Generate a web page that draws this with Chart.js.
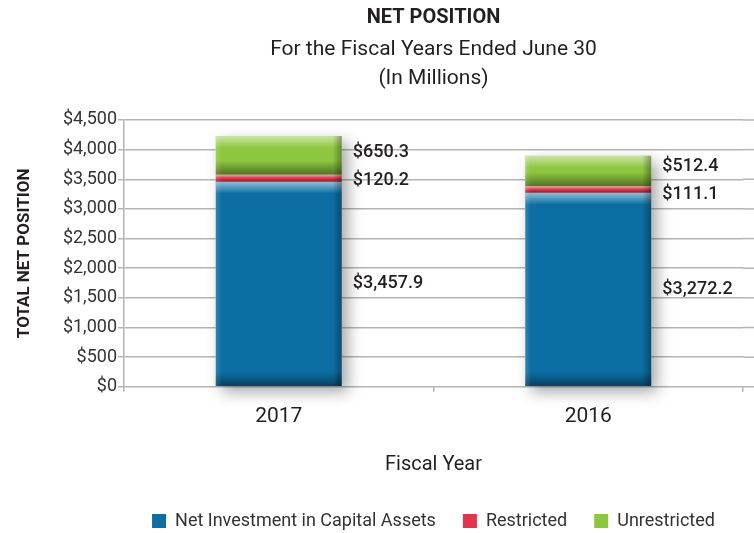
<!DOCTYPE html>
<html>
<head>
<meta charset="utf-8">
<title>Net Position</title>
<script src="https://cdn.jsdelivr.net/npm/chart.js@4"></script>
<style>
  html, body { margin: 0; padding: 0; background: #fff; }
  #wrap { width: 754px; height: 533px; }
</style>
</head>
<body>
<div id="wrap"><canvas id="netChart"></canvas></div>
<script>
// Chart data (in millions)
const years = ['2017', '2016'];
const netInvestment = [3457.9, 3272.2];
const restricted = [120.2, 111.1];
const unrestricted = [650.3, 512.4];
const seriesNames = ['Net Investment in Capital Assets', 'Restricted', 'Unrestricted'];

const textColor = '#231f20';
const gridColor = '#b4b4b4';
const fontFamily = "Roboto, 'Liberation Sans', sans-serif";

Chart.defaults.font.family = fontFamily;
Chart.defaults.color = textColor;

const money = v => '$' + v.toLocaleString('en-US', { minimumFractionDigits: 1, maximumFractionDigits: 1 });

// 3D-ish shading, drop shadows and value labels on the bars
const bevelPlugin = {
    id: 'bevel',
    beforeDatasetsDraw(chart) {
        const { ctx, chartArea, scales: { y } } = chart;
        ctx.save();
        // grid lines run out to the right edge
        ctx.strokeStyle = gridColor;
        ctx.lineWidth = 1.5;
        y.ticks.forEach(t => {
            const py = y.getPixelForValue(t.value);
            ctx.beginPath();
            ctx.moveTo(chartArea.right, py);
            ctx.lineTo(chart.width, py);
            ctx.stroke();
        });
        // soft shadow behind each stack
        const metas = chart.getSortedVisibleDatasetMetas();
        years.forEach((_, i) => {
            let top = Infinity, bottom = -Infinity, left = 0, width = 0;
            metas.forEach(m => {
                const p = m.data[i].getProps(['x', 'y', 'base', 'width'], true);
                top = Math.min(top, p.y, p.base);
                bottom = Math.max(bottom, p.y, p.base);
                left = p.x - p.width / 2;
                width = p.width;
            });
            ctx.shadowColor = 'rgba(0,0,0,0.35)';
            ctx.shadowBlur = 14;
            ctx.shadowOffsetX = 6;
            ctx.shadowOffsetY = 6;
            ctx.fillStyle = '#fff';
            ctx.fillRect(left, top, width, bottom - top);
        });
        ctx.restore();
    },
    afterDatasetsDraw(chart) {
        const { ctx } = chart;
        const metas = chart.getSortedVisibleDatasetMetas();
        ctx.save();
        metas.forEach(m => {
            m.data.forEach(el => {
                const p = el.getProps(['x', 'y', 'base', 'width'], true);
                const l = p.x - p.width / 2, w = p.width;
                const t = Math.min(p.y, p.base), h = Math.abs(p.base - p.y);
                let g;
                const th = Math.min(12, h / 2);
                g = ctx.createLinearGradient(0, t, 0, t + th);
                g.addColorStop(0, 'rgba(255,255,255,0.55)');
                g.addColorStop(1, 'rgba(255,255,255,0)');
                ctx.fillStyle = g;
                ctx.fillRect(l, t, w, th);
                const bh = Math.min(14, h / 2);
                g = ctx.createLinearGradient(0, t + h, 0, t + h - bh);
                g.addColorStop(0, 'rgba(0,0,0,0.42)');
                g.addColorStop(1, 'rgba(0,0,0,0)');
                ctx.fillStyle = g;
                ctx.fillRect(l, t + h - bh, w, bh);
                g = ctx.createLinearGradient(l + w, 0, l + w - 9, 0);
                g.addColorStop(0, 'rgba(0,0,0,0.32)');
                g.addColorStop(1, 'rgba(0,0,0,0)');
                ctx.fillStyle = g;
                ctx.fillRect(l + w - 9, t, 9, h);
                g = ctx.createLinearGradient(l, 0, l + 6, 0);
                g.addColorStop(0, 'rgba(255,255,255,0.15)');
                g.addColorStop(1, 'rgba(255,255,255,0)');
                ctx.fillStyle = g;
                ctx.fillRect(l, t, 6, h);
            });
        });

        // value labels to the right of each stack
        ctx.font = '500 18px ' + fontFamily;
        ctx.fillStyle = textColor;
        ctx.textAlign = 'left';
        ctx.textBaseline = 'middle';
        years.forEach((_, i) => {
            const items = metas.map(m => {
                const p = m.data[i].getProps(['x', 'y', 'base', 'width'], true);
                return { x: p.x + p.width / 2 + 11, y: (p.y + p.base) / 2, v: chart.data.datasets[m.index].data[i] };
            });
            // keep the two small top labels apart
            const a = items[2], b = items[1];
            if (b.y - a.y < 28) {
                const mid = (a.y + b.y) / 2;
                a.y = mid - 14;
                b.y = mid + 14;
            }
            items.forEach(it => ctx.fillText(money(it.v), it.x, it.y));
        });
        ctx.restore();
    }
};

const ctx = document.getElementById('netChart').getContext('2d');
const netChart = new Chart(ctx, {
    type: 'bar',
    data: {
        labels: years,
        datasets: [
            { label: seriesNames[0], data: netInvestment, backgroundColor: '#0c6ea3' },
            { label: seriesNames[1], data: restricted, backgroundColor: '#e2354c' },
            { label: seriesNames[2], data: unrestricted, backgroundColor: '#8dc63f' }
        ]
    },
    options: {
        responsive: true,
        maintainAspectRatio: false,
        animation: false,
        barPercentage: 0.407,
        categoryPercentage: 1,
        borderWidth: 0,
        layout: { padding: { left: 0, right: 11, top: 0, bottom: -7 } },
        plugins: {
            title: {
                display: true,
                text: 'NET POSITION',
                fullSize: false,
                color: textColor,
                font: { size: 20, weight: 'bold', lineHeight: 1.2 },
                padding: { top: 6, bottom: 0 }
            },
            subtitle: {
                display: true,
                text: ['For the Fiscal Years Ended June 30', '(In Millions)'],
                fullSize: false,
                color: textColor,
                font: { size: 21, lineHeight: 1.38 },
                padding: { top: 5, bottom: 27 }
            },
            legend: {
                position: 'bottom',
                fullSize: false,
                labels: {
                    color: '#333',
                    font: { size: 18 },
                    boxWidth: 14,
                    boxHeight: 14,
                    padding: 27
                }
            },
            tooltip: { enabled: false }
        },
        scales: {
            x: {
                stacked: true,
                grid: { display: true, drawOnChartArea: false, drawTicks: true, tickLength: 5, color: gridColor, lineWidth: 1.5 },
                border: { display: false },
                ticks: { color: textColor, font: { size: 21 }, padding: 12 },
                title: { display: true, text: 'Fiscal Year', color: textColor, font: { size: 20 }, padding: { top: 12, bottom: 8 } }
            },
            y: {
                stacked: true,
                min: 0,
                max: 4500,
                ticks: { stepSize: 500, autoSkip: false, color: '#333', font: { size: 18 }, padding: 1, callback: v => '$' + v.toLocaleString('en-US') },
                grid: { color: gridColor, lineWidth: 1.5, tickLength: 6 },
                border: { color: gridColor, width: 1.5 },
                title: { display: true, text: 'TOTAL NET POSITION', color: textColor, font: { size: 17, weight: 'bold' }, padding: { top: 15, bottom: 0 } },
                afterFit(scale) { scale.width = 124; }
            }
        }
    },
    plugins: [bevelPlugin]
});
</script>
</body>
</html>
